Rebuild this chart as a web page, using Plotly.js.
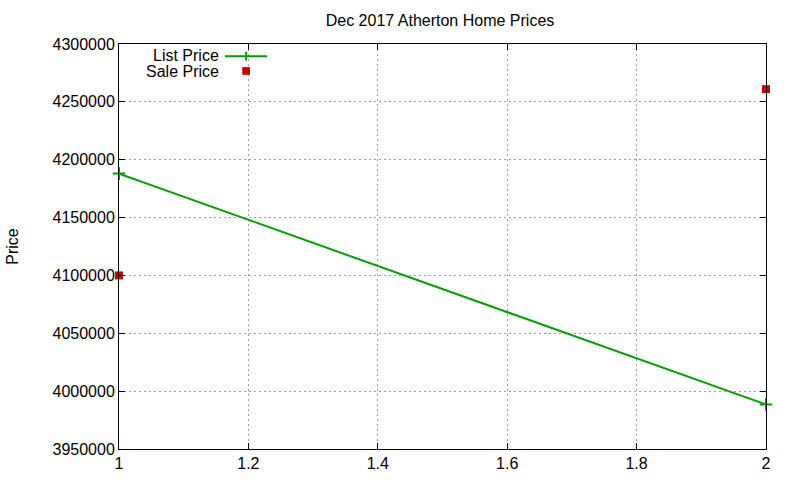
<!DOCTYPE html>
<html>
<head>
<meta charset="utf-8">
<script src="https://cdn.plot.ly/plotly-3.0.1.min.js"></script>
<style>
  html, body { margin: 0; padding: 0; background: #fff; }
  #chart { width: 800px; height: 480px; }
</style>
</head>
<body>
<div id="chart"></div>
<script>
const positions = [1, 2];
const listPrice = [4188000, 3988500];
const salePrice = [4100000, 4261000];
const xTicks = [1, 1.2, 1.4, 1.6, 1.8, 2];
const yTicks = [3950000, 4000000, 4050000, 4100000, 4150000, 4200000, 4250000, 4300000];

const green = '#00a000';
const red = '#cc0000';
const font = 'Liberation Sans, Arial, sans-serif';

const traces = [
    {
        x: positions,
        y: listPrice,
        name: 'List Price',
        type: 'scatter',
        mode: 'lines+markers',
        line: {color: green, width: 2},
        marker: {symbol: 'cross-thin-open', size: 9, line: {color: green, width: 2}},
        cliponaxis: false
    },
    {
        x: positions,
        y: salePrice,
        name: 'Sale Price',
        type: 'scatter',
        mode: 'markers',
        marker: {symbol: 'square', size: 8, color: red},
        cliponaxis: false
    }
];

const axisCommon = {
    showline: true,
    linecolor: '#000',
    linewidth: 1,
    mirror: 'allticks',
    ticks: 'inside',
    ticklen: 6,
    tickcolor: '#000',
    showgrid: true,
    gridcolor: '#a0a0a0',
    griddash: '2px,3px',
    gridwidth: 1,
    zeroline: false,
    tickfont: {family: font, size: 16, color: '#000'}
};

const layout = {
    width: 800,
    height: 480,
    paper_bgcolor: '#fff',
    plot_bgcolor: '#fff',
    margin: {t: 44, b: 31, l: 119, r: 34},
    showlegend: false,
    font: {family: font, color: '#000'},
    title: {
        text: 'Dec 2017 Atherton Home Prices',
        font: {family: font, size: 16, color: '#000'},
        x: 0.55, xanchor: 'center',
        y: 0.958, yanchor: 'middle'
    },
    xaxis: Object.assign({}, axisCommon, {
        range: [1, 2],
        tickvals: xTicks,
        ticktext: xTicks.map(String)
    }),
    yaxis: Object.assign({}, axisCommon, {
        range: [3950000, 4300000],
        tickvals: yTicks,
        tickformat: 'd',
        title: {text: 'Price', font: {family: font, size: 16, color: '#000'}, standoff: 29}
    }),
    // gnuplot-style key: text on the left, sample on the right
    annotations: [
        {xref: 'paper', yref: 'paper', x: 0.157, y: 0.972, xanchor: 'right', yanchor: 'middle',
         text: 'List Price', showarrow: false, font: {family: font, size: 16, color: '#000'}},
        {xref: 'paper', yref: 'paper', x: 0.157, y: 0.932, xanchor: 'right', yanchor: 'middle',
         text: 'Sale Price', showarrow: false, font: {family: font, size: 16, color: '#000'}}
    ],
    shapes: [
        {type: 'line', xref: 'paper', yref: 'paper', x0: 0.164, x1: 0.229, y0: 0.97, y1: 0.97,
         line: {color: green, width: 2}},
        {type: 'line', xref: 'paper', yref: 'paper', x0: 0.1965, x1: 0.1965, y0: 0.959, y1: 0.981,
         line: {color: green, width: 2}},
        {type: 'rect', xref: 'paper', yref: 'paper', x0: 0.1905, x1: 0.2025, y0: 0.924, y1: 0.943,
         fillcolor: red, line: {width: 0}}
    ]
};

Plotly.newPlot('chart', traces, layout, {displayModeBar: false, staticPlot: true});
</script>
</body>
</html>
